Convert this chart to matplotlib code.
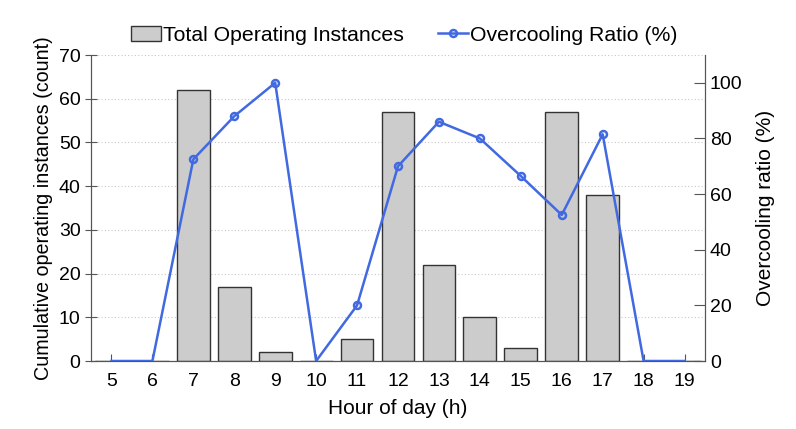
import numpy as np
import matplotlib
matplotlib.use("Agg")
import matplotlib.pyplot as plt

plt.rcParams['font.family'] = ['Liberation Sans', 'DejaVu Sans']

# data
hours = [5, 6, 7, 8, 9, 10, 11, 12, 13, 14, 15, 16, 17, 18, 19]
instances = [0, 0, 62, 17, 2, 0, 5, 57, 22, 10, 3, 57, 38, 0, 0]
ratio = [0, 0, 72.5, 88, 100, 0, 20, 70, 86, 80, 66.5, 52.5, 81.5, 0, 0]

fig = plt.figure(figsize=(7.96, 4.29), dpi=100)
ax = fig.add_axes([91/796, 1-361/429, (705-91)/796, (361-55)/429])

bars = ax.bar(hours, instances, width=0.8, color='#cccccc', edgecolor='#333333',
              linewidth=1.0, label='Total Operating Instances', zorder=2)
ax.set_xlim(4.5, 19.5)
ax.set_ylim(0, 70)
ax.set_yticks(range(0, 71, 10))
ax.set_xticks(hours)
ax.yaxis.grid(True, linestyle=(0, (1, 2)), color='#c8c8c8', linewidth=0.8, zorder=0)
ax.set_axisbelow(True)
ax.set_xlabel('Hour of day (h)', fontsize=15, labelpad=6)
ax.set_ylabel('Cumulative operating instances (count)', fontsize=14.2, labelpad=4)
ax.tick_params(axis='x', direction='in', length=5, labelsize=14, pad=9, color='#555555')
ax.tick_params(axis='y', direction='inout', length=8, labelsize=14, color='#555555')
ax.spines['top'].set_visible(False)
for s in ['left', 'bottom', 'right']:
    ax.spines[s].set_color('#555555')

ax2 = ax.twinx()
marks = [i for i, v in enumerate(ratio) if v > 0]
line, = ax2.plot(hours, ratio, color='#4169e1', linewidth=1.8, marker='o',
                 markersize=5, markerfacecolor='none', markeredgewidth=1.8,
                 markevery=marks, label='Overcooling Ratio (%)', zorder=3)
ax2.set_ylim(0, 110)
ax2.set_yticks([0, 20, 40, 60, 80, 100])
ax2.set_ylabel('Overcooling ratio (%)', fontsize=15, labelpad=10)
ax2.tick_params(axis='y', direction='in', length=8, labelsize=14, color='#555555')
ax2.spines['top'].set_visible(False)
for s in ['left', 'bottom', 'right']:
    ax2.spines[s].set_color('#555555')

fig.legend([bars, line], ['Total Operating Instances', 'Overcooling Ratio (%)'],
           loc='upper center', bbox_to_anchor=(0.508, 0.985), ncol=2, frameon=False,
           fontsize=15.3, handlelength=1.4, handletextpad=0.1, columnspacing=1.6)

fig.savefig('out.png', dpi=100)
